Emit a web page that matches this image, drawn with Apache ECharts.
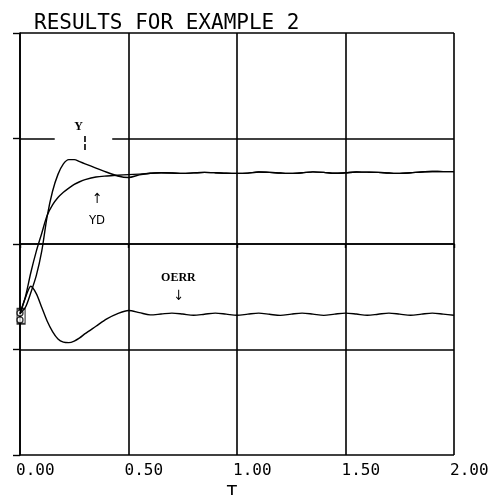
<!DOCTYPE html>
<html>
<head>
<meta charset="utf-8">
<script src="https://cdn.jsdelivr.net/npm/echarts@6/dist/echarts.min.js"></script>
<style>
  html, body { margin: 0; padding: 0; background: #fff; }
  #chartmain { width: 493px; height: 495px; }
</style>
</head>
<body>
<div id="chartmain"></div>
<script>
// time samples (T)
var tValues = [0, 0.025, 0.05, 0.075, 0.1, 0.125, 0.15, 0.175, 0.2, 0.225, 0.25, 0.275, 0.3, 0.35, 0.4, 0.45, 0.5, 0.55,
  0.6, 0.65, 0.7, 0.75, 0.8, 0.85, 0.9, 0.95, 1.0, 1.05, 1.1, 1.15, 1.2, 1.25, 1.3, 1.35, 1.4, 1.45,
  1.5, 1.55, 1.6, 1.65, 1.7, 1.75, 1.8, 1.85, 1.9, 1.95, 2.0];

var yValues = [-0.66, -0.6, -0.46, -0.3, -0.07, 0.26, 0.5, 0.66, 0.76, 0.8, 0.8, 0.78, 0.76, 0.72, 0.68, 0.645, 0.63, 0.655,
  0.67, 0.675, 0.673, 0.669, 0.674, 0.679, 0.676, 0.671, 0.669, 0.672, 0.682, 0.679, 0.673, 0.669, 0.675, 0.684, 0.679, 0.67,
  0.675, 0.682, 0.681, 0.679, 0.673, 0.669, 0.675, 0.683, 0.687, 0.686, 0.686];

var ydValues = [-0.66, -0.5, -0.27, -0.07, 0.1, 0.27, 0.37, 0.44, 0.49, 0.53, 0.565, 0.59, 0.61, 0.635, 0.645, 0.652, 0.658, 0.662,
  0.67, 0.675, 0.673, 0.669, 0.674, 0.679, 0.676, 0.671, 0.669, 0.672, 0.682, 0.679, 0.673, 0.669, 0.675, 0.684, 0.679, 0.67,
  0.675, 0.682, 0.681, 0.679, 0.673, 0.669, 0.675, 0.683, 0.687, 0.686, 0.686];

var oerrValues = [-0.66, -0.51, -0.4, -0.47, -0.6, -0.73, -0.83, -0.9, -0.93, -0.935, -0.92, -0.89, -0.85, -0.78, -0.71, -0.66, -0.63, -0.65,
  -0.672, -0.664, -0.655, -0.664, -0.676, -0.666, -0.655, -0.665, -0.676, -0.665, -0.655, -0.666, -0.677, -0.665, -0.655, -0.665, -0.677, -0.665,
  -0.655, -0.664, -0.676, -0.666, -0.655, -0.665, -0.676, -0.665, -0.655, -0.665, -0.676];

var startCircles = [[0, -0.655], [0, -0.72]];
var startBox = [[0.005, -0.685]];
// the grid line at 1.0 is broken where the Y label sits
var gridGap = [0.16, 0.425, 1.0];

// annotation texts: [t, value, text, font]
var notes = [
  [0.27, 1.11, 'Y', 'bold 12px "Liberation Serif"'],
  [0.30, 0.96, '\u00a6', 'bold 15px "DejaVu Sans"'],
  [0.355, 0.42, '\u2191', '14px "DejaVu Sans Condensed"'],
  [0.355, 0.22, 'YD', '13px "DejaVu Sans Condensed"'],
  [0.73, -0.32, 'OERR', 'bold 12px "Liberation Serif"'],
  [0.73, -0.5, '\u2193', '14px "DejaVu Sans Condensed"']
];

function pairs(vals) {
  var out = [];
  for (var i = 0; i < tValues.length; i++) out.push([tValues[i], vals[i]]);
  return out;
}

var lineStyle = { color: '#000', width: 1.4 };
var myChart = echarts.init(document.getElementById('chartmain'));
var options = {
  animation: false,
  backgroundColor: '#fff',
  title: {
    text: 'RESULTS FOR EXAMPLE 2',
    left: 29,
    top: 8,
    textStyle: { fontFamily: 'DejaVu Sans Mono', fontSize: 21, fontWeight: 'normal', color: '#000' }
  },
  grid: { left: 20, right: 39, top: 33, bottom: 40, outerBoundsMode: 'none', containLabel: false },
  xAxis: {
    type: 'value',
    min: 0,
    max: 2,
    interval: 0.5,
    name: 'T',
    nameLocation: 'middle',
    nameGap: 24,
    nameTextStyle: { fontFamily: 'DejaVu Sans Mono', fontSize: 18, color: '#000', padding: [0, 10, 0, 0] },
    axisLine: { lineStyle: { color: '#000', width: 1.6 } },
    axisTick: { show: true, length: 4, lineStyle: { color: '#000', width: 1.4 } },
    axisLabel: {
      formatter: function (v) { return v.toFixed(2); },
      align: 'left',
      margin: 8,
      padding: [0, 0, 0, -4],
      fontFamily: 'DejaVu Sans Mono',
      fontSize: 16,
      color: '#000'
    },
    splitLine: { show: true, lineStyle: { color: '#000', width: 1.6 } }
  },
  yAxis: {
    type: 'value',
    min: -2,
    max: 2,
    interval: 1,
    axisLine: { show: true, lineStyle: { color: '#000', width: 1.6 } },
    axisTick: { show: true, length: 7, lineStyle: { color: '#000', width: 1.4 } },
    axisLabel: { show: false },
    splitLine: { show: true, lineStyle: { color: '#000', width: 1.6 } }
  },
  series: [
    {
      name: 'Y', type: 'line', data: pairs(yValues), smooth: 0.3, showSymbol: false, lineStyle: lineStyle,
      markLine: {
        silent: true, symbol: 'none', label: { show: false },
        lineStyle: { color: '#fff', width: 4, type: 'solid' },
        data: [[{ coord: [gridGap[0], gridGap[2]] }, { coord: [gridGap[1], gridGap[2]] }]]
      }
    },
    { name: 'YD', type: 'line', data: pairs(ydValues), smooth: 0.3, showSymbol: false, lineStyle: lineStyle },
    { name: 'OERR', type: 'line', data: pairs(oerrValues), smooth: 0.3, showSymbol: false, lineStyle: lineStyle },
    {
      type: 'scatter', data: startCircles, symbol: 'circle', symbolSize: 6,
      itemStyle: { color: '#fff', borderColor: '#000', borderWidth: 1.3 }
    },
    {
      type: 'scatter', data: startBox, symbol: 'rect', symbolSize: [8, 15],
      itemStyle: { color: 'rgba(0,0,0,0)', borderColor: '#000', borderWidth: 1.5 }, z: 1
    }
  ]
};
myChart.setOption(options);

var graphics = [];
for (var k = 0; k < notes.length; k++) {
  var p = myChart.convertToPixel({ gridIndex: 0 }, [notes[k][0], notes[k][1]]);
  graphics.push({
    type: 'text',
    x: p[0],
    y: p[1],
    z: 100,
    style: {
      text: notes[k][2],
      fill: '#000',
      font: notes[k][3],
      align: 'center',
      verticalAlign: 'middle'
    }
  });
}
myChart.setOption({ graphic: graphics });
</script>
</body>
</html>
